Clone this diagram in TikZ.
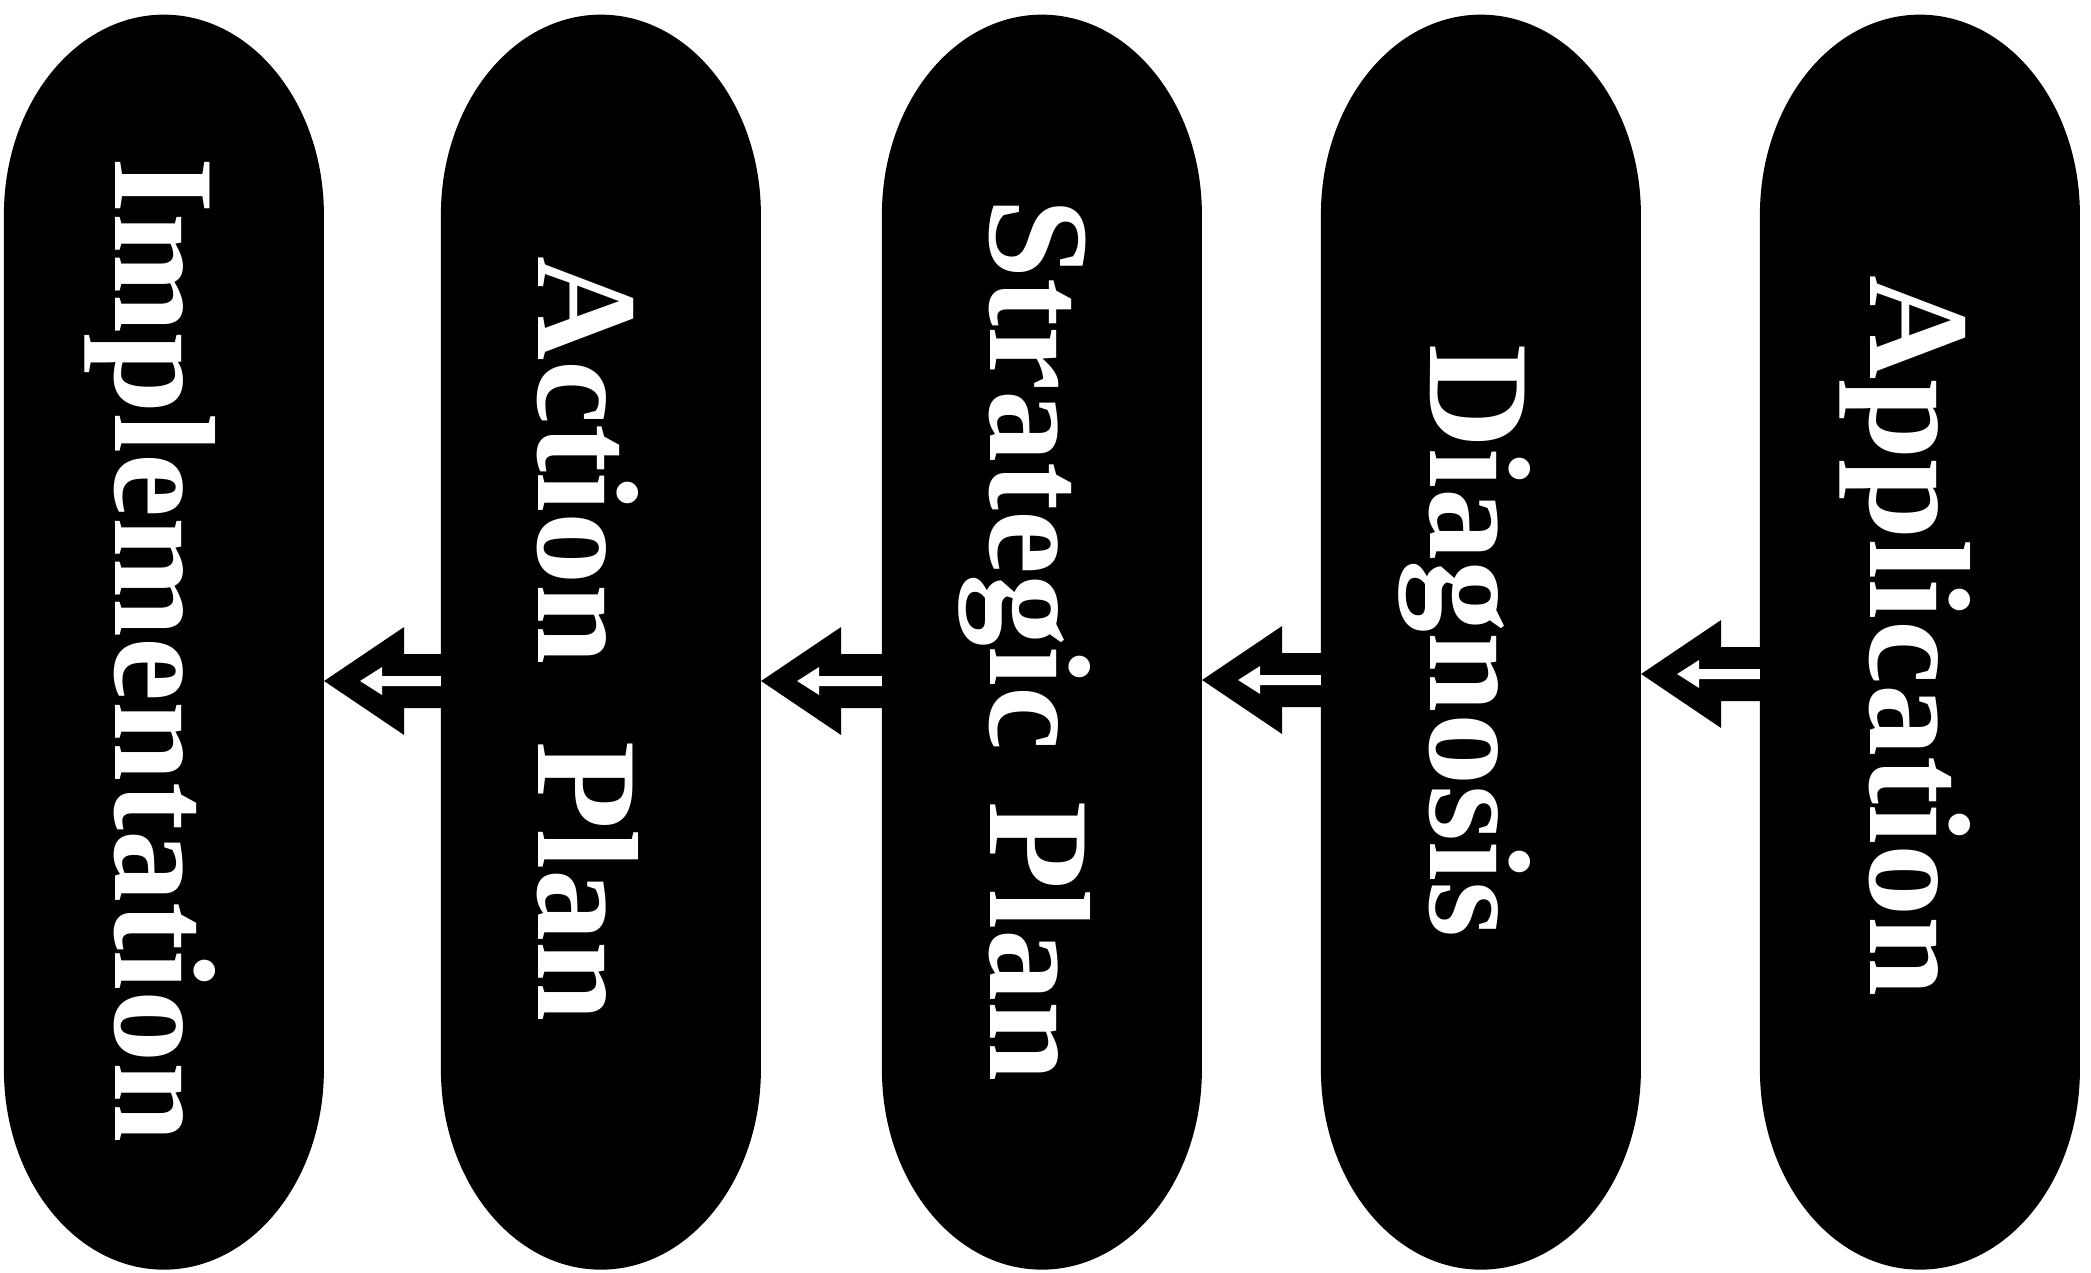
\documentclass[tikz,border=0pt]{standalone}
\usepackage{fontspec}
\setmainfont{Liberation Serif}
\usetikzlibrary{calc}
\tikzset{
  pillbox/.style={rectangle, minimum width=3.2cm, minimum height=12.55cm, inner sep=0pt, outer sep=0pt},
  pillfill/.style={fill=black},
  pilltext/.style={text=white, font=\fontsize{41}{48}\selectfont\bfseries, rotate=-90, anchor=base, inner sep=0pt},
}
\newcommand\drawpill[1]{%
  \fill[pillfill] ($(#1.north west)+(0,200)$) arc[start angle=180,end angle=360,x radius=160,y radius=200]
    -- ++(0,855) arc[start angle=0,end angle=180,x radius=160,y radius=200] -- cycle;}
\newcommand\flowarrow[3]{%
  \coordinate (s) at ($(#1.west)+(0,#3)$);
  \coordinate (t) at ($(#2.east)+(0,#3)$);
  \fill[black] (t) -- ($(t)+(80,-54)$) -- ($(t)+(80,-27)$) -- ($(s)+(0,-27)$) -- ($(s)+(0,27)$)
    -- ($(t)+(80,27)$) -- ($(t)+(80,54)$) -- cycle;
  \fill[white] ($(t)+(36,0)$) -- ($(t)+(58,-14)$) -- ($(t)+(58,-5)$) -- ($(s)+(0,-5)$) -- ($(s)+(0,5)$)
    -- ($(t)+(58,5)$) -- ($(t)+(58,14)$) -- cycle;}
\begin{document}
\begin{tikzpicture}[x=0.01cm,y=-0.01cm]
\fill[white] (0,0) rectangle (2091,1272);
\useasboundingbox (0,0) rectangle (2091,1272);
\node[pillbox] (imp) at (164,642.5) {};
\node[pillbox] (act) at (601,642.5) {};
\node[pillbox] (str) at (1042,642.5) {};
\node[pillbox] (dia) at (1481,642.5) {};
\node[pillbox] (app) at (1920,642.5) {};
\drawpill{imp}
\drawpill{act}
\drawpill{str}
\drawpill{dia}
\drawpill{app}
\flowarrow{act}{imp}{38.5}
\flowarrow{str}{act}{38.5}
\flowarrow{dia}{str}{37.5}
\flowarrow{app}{dia}{31.5}
\node[pilltext] (impt) at (115,650) {Implementation};
\node[pilltext] (actt) at (538,639) {Action\hspace{0.28em} Plan};
\node[pilltext] (strt) at (990,640) {Strategic\hspace{0.1em} Plan};
\node[pilltext] (diat) at (1430,641) {Diagnosis};
\node[pilltext] (appt) at (1870,636) {Application};
\end{tikzpicture}
\end{document}
